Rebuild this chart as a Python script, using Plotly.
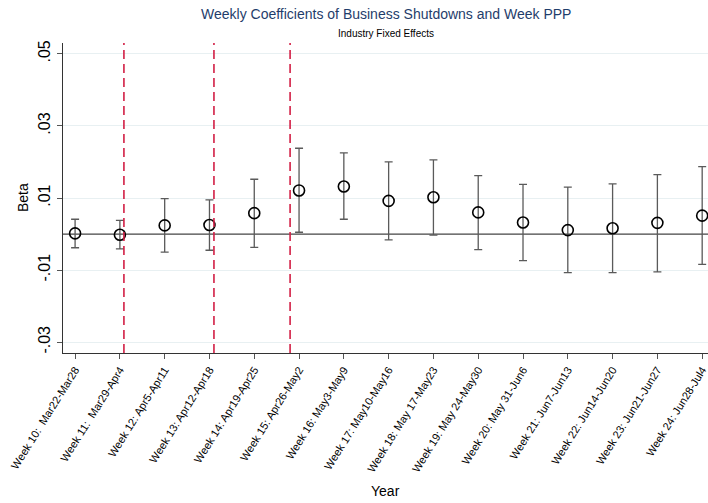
import plotly.graph_objects as go

weeks = ["Week 10:  Mar22-Mar28", "Week 11:  Mar29-Apr4", "Week 12: Apr5-Apr11",
         "Week 13: Apr12-Apr18", "Week 14: Apr19-Apr25", "Week 15: Apr26-May2",
         "Week 16: May3-May9", "Week 17: May10-May16", "Week 18: May 17-May23",
         "Week 19: May 24-May30", "Week 20: May 31-Jun6", "Week 21: Jun7-Jun13",
         "Week 22: Jun14-Jun20", "Week 23: Jun21-Jun27", "Week 24: Jun28-Jul4"]
beta = [0.0002, -0.0002, 0.0024, 0.0025, 0.0058, 0.0121, 0.0132, 0.0092, 0.0102,
        0.0060, 0.0032, 0.0011, 0.0016, 0.0031, 0.0051]
ci_hi = [0.0041, 0.0038, 0.0098, 0.0095, 0.0152, 0.0238, 0.0225, 0.0200, 0.0206,
         0.0162, 0.0138, 0.0130, 0.0139, 0.0165, 0.0187]
ci_lo = [-0.0038, -0.0041, -0.0050, -0.0045, -0.0037, 0.0005, 0.0041, -0.0016, -0.0003,
         -0.0043, -0.0074, -0.0107, -0.0107, -0.0105, -0.0084]
event_lines = [1.09, 3.1, 4.8]
ytick_vals = [-0.03, -0.01, 0.01, 0.03, 0.05]
ytick_text = ["-.03", "-.01", ".01", ".03", ".05"]

xpos = list(range(len(weeks)))
err_plus = [h - b for h, b in zip(ci_hi, beta)]
err_minus = [b - l for b, l in zip(beta, ci_lo)]

fig = go.Figure()
fig.add_trace(go.Scatter(
    x=xpos, y=beta, mode="markers",
    marker=dict(symbol="circle-open", size=11, color="black", line=dict(width=1.6, color="black")),
    error_y=dict(type="data", symmetric=False, array=err_plus, arrayminus=err_minus,
                 color="#5a5a5a", thickness=1.3, width=4),
    showlegend=False, cliponaxis=False,
))

shapes = [dict(type="line", xref="paper", yref="y", x0=0, x1=1, y0=0, y1=0,
               line=dict(color="#444444", width=1.3), layer="below")]
for xv in event_lines:
    shapes.append(dict(type="line", xref="x", yref="paper", x0=xv, x1=xv, y0=0, y1=1,
                       line=dict(color="#d21f45", width=1.6, dash="9px,5px")))

fig.update_layout(
    width=708, height=503,
    margin=dict(l=63, r=0, t=43, b=150),
    paper_bgcolor="white", plot_bgcolor="white",
    font=dict(family="Liberation Sans, Arial, sans-serif", color="black"),
    shapes=shapes,
    annotations=[
        dict(text="Weekly Coefficients of Business Shutdowns and Week PPP", xref="paper", yref="paper",
             x=0.5, y=1, yshift=29, showarrow=False, font=dict(size=14, color="#1f3d6b"),
             xanchor="center", yanchor="middle"),
        dict(text="Industry Fixed Effects", xref="paper", yref="paper",
             x=0.5, y=1, yshift=10, showarrow=False, font=dict(size=10, color="black"),
             xanchor="center", yanchor="middle"),
        dict(text="Year", xref="paper", yref="paper", x=0.5, y=0, yshift=-138,
             showarrow=False, font=dict(size=14), xanchor="center", yanchor="middle"),
        dict(text="Beta", xref="paper", yref="paper", x=0, y=0.5, xshift=-40, yshift=0,
             textangle=-90, showarrow=False, font=dict(size=14), xanchor="center", yanchor="middle"),
    ],
    xaxis=dict(
        range=[-0.27, 14.13], tickmode="array", tickvals=xpos, ticktext=weeks,
        tickangle=-58, tickfont=dict(size=11), ticks="outside", ticklen=5, tickcolor="#555",
        showline=True, linecolor="#333", linewidth=1.3, showgrid=False, zeroline=False,
        automargin=False, ticklabeloverflow="allow",
    ),
    yaxis=dict(
        range=[-0.033, 0.053], tickmode="array", tickvals=ytick_vals, ticktext=ytick_text,
        tickangle=-90, tickfont=dict(size=16), ticks="outside", ticklen=5, tickcolor="#555",
        showline=True, linecolor="#333", linewidth=1.3, showgrid=True, gridcolor="#e8f0f2",
        gridwidth=1.2, zeroline=False, automargin=False, ticklabeloverflow="allow",
    ),
)

fig.write_html("out.html", config={"displayModeBar": False},
               post_script="document.body.style.margin='0';document.body.style.overflow='hidden';")
